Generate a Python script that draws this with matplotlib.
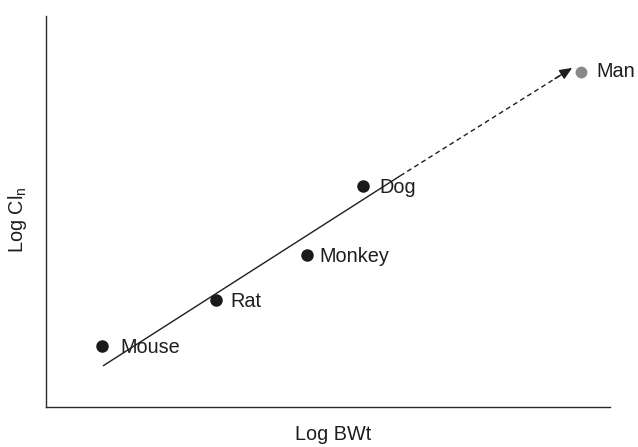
import matplotlib
matplotlib.use('Agg')
import matplotlib.pyplot as plt

plt.rcParams['font.family'] = ['Liberation Sans', 'DejaVu Sans']
plt.rcParams['mathtext.default'] = 'regular'

# species on log-log axes (arbitrary units, no ticks on the original)
species = ['Mouse', 'Rat', 'Monkey', 'Dog']
log_bwt = [0.99, 3.01, 4.63, 5.62]
log_cl = [1.56, 2.74, 3.89, 5.65]

# predicted human value
man_bwt = 9.49
man_cl = 8.57

# regression line through animals + extrapolation to man
fit_x = [1.01, 6.28]
fit_y = [1.05, 5.91]
extrap_x = [6.28, 9.33]
extrap_y = [5.91, 8.67]

TXT = '#1e1e1e'
FS = 14.3

fig = plt.figure(figsize=(6.38, 4.47), dpi=100)
ax = fig.add_axes([0.0721, 0.0895, 0.884, 0.875])

ax.plot(fit_x, fit_y, color=TXT, lw=1.0, solid_capstyle='butt')
# dashed extrapolation, stop a bit short so the arrow head sits on the end
end_x = extrap_x[0] + 0.96 * (extrap_x[1] - extrap_x[0])
end_y = extrap_y[0] + 0.96 * (extrap_y[1] - extrap_y[0])
ax.plot([extrap_x[0], end_x], [extrap_y[0], end_y],
        color=TXT, lw=1.0, ls=(0, (3.5, 2.5)))
ax.annotate('', xy=(extrap_x[1], extrap_y[1]),
            xytext=(extrap_x[0] + 0.9 * (extrap_x[1] - extrap_x[0]),
                    extrap_y[0] + 0.9 * (extrap_y[1] - extrap_y[0])),
            arrowprops=dict(arrowstyle='-|>,head_length=0.75,head_width=0.32',
                            color=TXT, lw=1.0, shrinkA=0, shrinkB=0))

ax.plot(log_bwt, log_cl, 'o', color='#1a1a1a', ms=8, zorder=3)
ax.plot([man_bwt], [man_cl], 'o', color='#8a8a8a', ms=7.5, zorder=3)

label_dx = [19, 15, 12, 16]
for name, x, y, dx in zip(species, log_bwt, log_cl, label_dx):
    ax.annotate(name, (x, y), xytext=(dx, -7), textcoords='offset pixels',
                fontsize=FS, va='baseline', ha='left', color=TXT)
ax.annotate('Man', (man_bwt, man_cl), xytext=(15, -5),
            textcoords='offset pixels', fontsize=FS, va='baseline',
            ha='left', color=TXT)

ax.set_xlim(0, 10)
ax.set_ylim(0, 10)
ax.set_xticks([])
ax.set_yticks([])
for side in ['top', 'right']:
    ax.spines[side].set_visible(False)
for side in ['left', 'bottom']:
    ax.spines[side].set_color('#2a2a2a')
    ax.spines[side].set_linewidth(1.0)

ax.set_xlabel('Log BWt', fontsize=FS, color=TXT)
ax.xaxis.set_label_coords(0.509, -0.047)
ax.set_ylabel('Log Cl$_n$', fontsize=FS, color=TXT)
ax.yaxis.set_label_coords(-0.03, 0.48)

fig.savefig('out.png', dpi=100)
